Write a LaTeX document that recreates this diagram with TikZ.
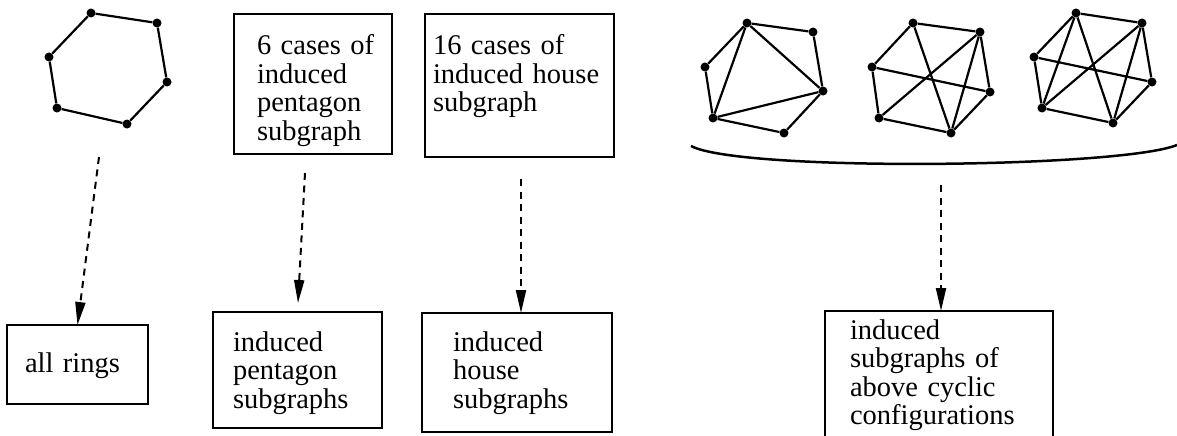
\documentclass[tikz,border=0pt]{standalone}
\usepackage{fontspec}
\newfontfamily\boxfont{Liberation Serif}
\usetikzlibrary{arrows.meta}
\tikzset{
  vtx/.style={circle,fill,inner sep=0pt,minimum size=9pt},
  gedge/.style={line width=2.2pt},
  casebox/.style={draw,line width=2pt,anchor=north west,align=left,outer sep=0pt,inner ysep=0pt,
    font=\boxfont\fontsize{28.5pt}{28.5pt}\selectfont},
  flow/.style={line width=2pt,dash pattern=on 7pt off 5.5pt,-{Triangle[length=23pt,width=10pt]}},
}
\begin{document}
\begin{tikzpicture}[x=1pt,y=-1pt]
    \useasboundingbox (0,0) rectangle (1177,436);
    % 六边形
    \foreach \n/\x/\y in {a/91/13,b/157/23,c/167/82,d/127/124,e/57/108,f/49/57}
        \node[vtx] (h\n) at (\x,\y) {};
    \draw[gedge] (ha) -- (hb) -- (hc) -- (hd) -- (he) -- (hf) -- (ha);
    % 三个环形构型
    \foreach \n/\x/\y in {a/747/23,b/813/32,c/823/91,d/784/133,e/713/118,f/705/67}
        \node[vtx] (p\n) at (\x,\y) {};
    \draw[gedge] (pa) -- (pb) -- (pc) -- (pd) -- (pe) -- (pf) -- (pa);
    \draw[gedge] (pa) -- (pe) (pa) -- (pc) (pe) -- (pc);
    \foreach \n/\x/\y in {a/913/23,b/980/32,c/990/92,d/951/133,e/879/118,f/872/67}
        \node[vtx] (q\n) at (\x,\y) {};
    \draw[gedge] (qa) -- (qb) -- (qc) -- (qd) -- (qe) -- (qf) -- (qa);
    \draw[gedge] (qa) -- (qd) (qb) -- (qe) (qf) -- (qc) (qb) -- (qd);
    \foreach \n/\x/\y in {a/1076/13,b/1142/23,c/1152/82,d/1113/123,e/1042/108,f/1034/57}
        \node[vtx] (r\n) at (\x,\y) {};
    \draw[gedge] (ra) -- (rb) -- (rc) -- (rd) -- (re) -- (rf) -- (ra);
    \draw[gedge] (ra) -- (re) (ra) -- (rd) (rb) -- (re) (rb) -- (rd) (rf) -- (rc);
    \coordinate (arc left) at (691,146);
    \coordinate (arc right) at (1177,145);
    \draw[line width=2.5pt] (arc left) .. controls (740,172) and (1120,168) .. (arc right);%下方的括弧
    % 方框
    \node[casebox,inner xsep=23pt,text width=112pt,text height=41pt,text depth=99pt] (penttop) at (234,14)
        {6~cases~of\\induced\\pentagon\\subgraph};
    \node[casebox,inner xsep=8pt,text width=173pt,text height=41pt,text depth=102pt] (housetop) at (425,14)
        {16~cases~of\\induced~house\\subgraph};
    \node[casebox,inner xsep=18pt,text width=105pt,text height=47pt,text depth=32pt] (rings) at (7,325)
        {all~rings};
    \node[casebox,inner xsep=20pt,text width=129pt,text height=39pt,text depth=77pt] (pentbot) at (213,312)
        {induced\\pentagon\\subgraphs};
    \node[casebox,inner xsep=31pt,text width=128pt,text height=38pt,text depth=81pt] (housebot) at (422,313)
        {induced\\house\\subgraphs};
    \node[casebox,inner xsep=25pt,text width=178pt,text height=28pt,text depth=140pt] (cycbot) at (825,311)
        {induced\\subgraphs~of\\above~cyclic\\configurations};
    % 虚线箭头
    \coordinate (ring tail) at (99,157);
    \coordinate (pent tail) at (305,173);
    \coordinate (house tail) at (521,179);
    \coordinate (cyc tail) at (941,185);
    \draw[flow] (ring tail) -- (rings.north);
    \draw[flow,shorten >=9pt] (pent tail) -- (pentbot.north);
    \draw[flow] (house tail) -- (house tail |- housebot.north);
    \draw[flow] (cyc tail) -- (cyc tail |- cycbot.north);
\end{tikzpicture}
\end{document}
